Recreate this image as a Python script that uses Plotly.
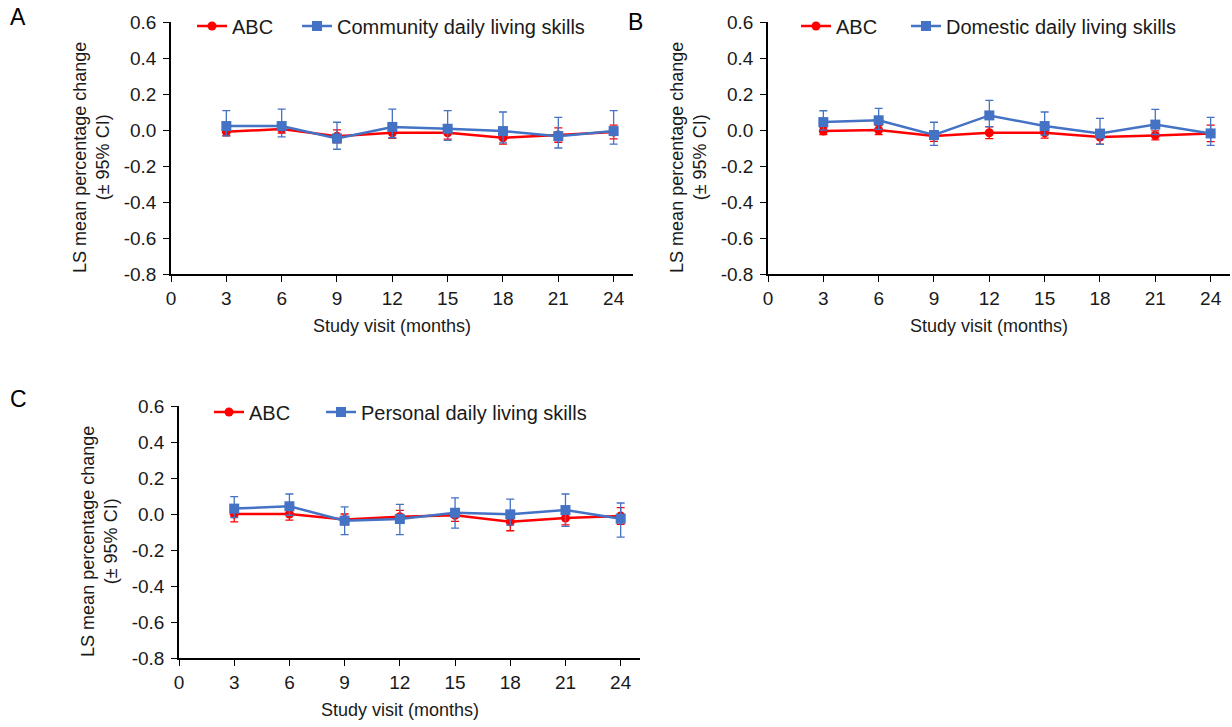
import plotly.graph_objects as go

W, H = 1232, 727

months = [3, 6, 9, 12, 15, 18, 21, 24]
x_ticks = [0, 3, 6, 9, 12, 15, 18, 21, 24]
y_ticks = [-0.8, -0.6, -0.4, -0.2, 0.0, 0.2, 0.4, 0.6]
y_tick_labels = ["-0.8", "-0.6", "-0.4", "-0.2", "0.0", "0.2", "0.4", "0.6"]

# Panel A
A_abc = [-0.010, 0.005, -0.035, -0.015, -0.015, -0.043, -0.028, -0.011]
A_abc_err = [0.022, 0.022, 0.036, 0.032, 0.036, 0.035, 0.040, 0.038]
A_cdls = [0.022, 0.022, -0.047, 0.017, 0.007, -0.006, -0.034, -0.006]
A_cdls_up = [0.086, 0.094, 0.090, 0.099, 0.101, 0.106, 0.104, 0.114]
A_cdls_dn = [0.055, 0.060, 0.060, 0.060, 0.065, 0.065, 0.066, 0.072]

# Panel B
B_abc = [-0.006, 0.000, -0.033, -0.015, -0.015, -0.039, -0.030, -0.019]
B_abc_err = [0.020, 0.026, 0.030, 0.033, 0.030, 0.040, 0.025, 0.046]
B_ddls = [0.044, 0.054, -0.028, 0.081, 0.022, -0.020, 0.030, -0.019]
B_ddls_up = [0.063, 0.066, 0.071, 0.084, 0.078, 0.085, 0.085, 0.089]
B_ddls_dn = [0.045, 0.050, 0.057, 0.062, 0.050, 0.060, 0.055, 0.066]

# Panel C
C_abc = [0.000, 0.000, -0.030, -0.015, -0.007, -0.043, -0.022, -0.011]
C_abc_err = [0.044, 0.034, 0.030, 0.035, 0.034, 0.050, 0.038, 0.046]
C_pdls = [0.030, 0.043, -0.037, -0.028, 0.007, -0.002, 0.022, -0.026]
C_pdls_up = [0.066, 0.068, 0.077, 0.082, 0.083, 0.085, 0.089, 0.087]
C_pdls_dn = [0.050, 0.050, 0.078, 0.087, 0.085, 0.060, 0.091, 0.102]

panels = [
    dict(letter="A", name="Community daily living skills", abc=A_abc, abc_err=A_abc_err,
         v=A_cdls, up=A_cdls_up, dn=A_cdls_dn, px=(171, 633), py=(22, 274),
         letter_pos=(18, 17), xtitle_y=326, legend_x=(192, 297), legend_y=26),
    dict(letter="B", name="Domestic daily living skills", abc=B_abc, abc_err=B_abc_err,
         v=B_ddls, up=B_ddls_up, dn=B_ddls_dn, px=(768, 1230), py=(22, 274),
         letter_pos=(635, 22), xtitle_y=326, legend_x=(796, 906), legend_y=26),
    dict(letter="C", name="Personal daily living skills", abc=C_abc, abc_err=C_abc_err,
         v=C_pdls, up=C_pdls_up, dn=C_pdls_dn, px=(179, 640), py=(406, 658),
         letter_pos=(18, 399), xtitle_y=710, legend_x=(209, 321), legend_y=412),
]

RED = "#FF0000"
BLUE = "#4472C4"
TXT = "#1a1a1a"
FONT = "Liberation Sans, Arial, sans-serif"

fig = go.Figure()
layout = dict(
    template="none", showlegend=True,
    width=W, height=H, margin=dict(l=0, r=0, t=0, b=0, autoexpand=False),
    paper_bgcolor="white", plot_bgcolor="white",
    font=dict(family=FONT, size=19, color=TXT),
    annotations=[],
)

legend_idx = 0
for i, p in enumerate(panels):
    k = "" if i == 0 else str(i + 1)
    xa, ya = "x" + k, "y" + k
    leg_red = "legend" + ("" if legend_idx == 0 else str(legend_idx + 1))
    leg_blue = "legend" + str(legend_idx + 2)
    legend_idx += 2
    fig.add_trace(go.Scatter(
        x=months, y=p["abc"], name="ABC", xaxis=xa, yaxis=ya, legend=leg_red,
        mode="lines+markers", showlegend=True,
        line=dict(color=RED, width=2.5),
        marker=dict(symbol="circle", size=9, color=RED),
        error_y=dict(type="data", array=p["abc_err"], color=RED, thickness=1.3, width=4),
    ))
    fig.add_trace(go.Scatter(
        x=months, y=p["v"], name=p["name"], xaxis=xa, yaxis=ya, legend=leg_blue,
        mode="lines+markers", showlegend=True,
        line=dict(color=BLUE, width=2.5),
        marker=dict(symbol="square", size=10, color=BLUE),
        error_y=dict(type="data", symmetric=False, array=p["up"], arrayminus=p["dn"],
                     color=BLUE, thickness=1.3, width=4),
    ))
    x0, x1 = p["px"]
    y0, y1 = p["py"]
    layout["xaxis" + k] = dict(
        domain=[x0 / W, x1 / W], anchor=ya, range=[0, 25.05], automargin=False,
        tickmode="array", tickvals=x_ticks, ticks="outside", ticklen=6, tickwidth=1.3,
        tickcolor="black", showline=True, linecolor="black", linewidth=1.5,
        showgrid=False, zeroline=False, tickfont=dict(size=19, color=TXT),
    )
    layout["yaxis" + k] = dict(
        domain=[1 - y1 / H, 1 - y0 / H], anchor=xa, range=[-0.8, 0.6], automargin=False,
        tickmode="array", tickvals=y_ticks, ticktext=y_tick_labels,
        ticks="outside", ticklen=6, tickwidth=1.3, tickcolor="black",
        showline=True, linecolor="black", linewidth=1.5, ticklabelstandoff=3,
        showgrid=False, zeroline=False, tickfont=dict(size=19, color=TXT),
    )
    for leg, lx in ((leg_red, p["legend_x"][0]), (leg_blue, p["legend_x"][1])):
        layout[leg] = dict(
            visible=True,
            x=lx / W, y=1 - p["legend_y"] / H, xanchor="left", yanchor="middle",
            orientation="h", bgcolor="rgba(0,0,0,0)", font=dict(size=20, color=TXT),
            itemwidth=30,
        )
    layout["annotations"] += [
        dict(text=p["letter"], xref="paper", yref="paper",
             x=p["letter_pos"][0] / W, y=1 - p["letter_pos"][1] / H,
             xanchor="center", yanchor="middle",
             showarrow=False, font=dict(size=23, color="black")),
        dict(text="Study visit (months)", xref=xa, yref="paper", x=12,
             y=1 - p["xtitle_y"] / H, xanchor="center", yanchor="middle",
             showarrow=False, font=dict(size=18, color=TXT)),
        dict(text="LS mean percentage change<br>(± 95% CI)", xref="paper", yref=ya,
             x=(x0 - 79) / W, y=-0.155, textangle=-90, xanchor="center", yanchor="middle",
             showarrow=False, font=dict(size=18, color=TXT)),
    ]

fig.update_layout(**layout)
fig.write_html("out.html", post_script="document.body.style.margin='0';",
               config={"displayModeBar": False})
